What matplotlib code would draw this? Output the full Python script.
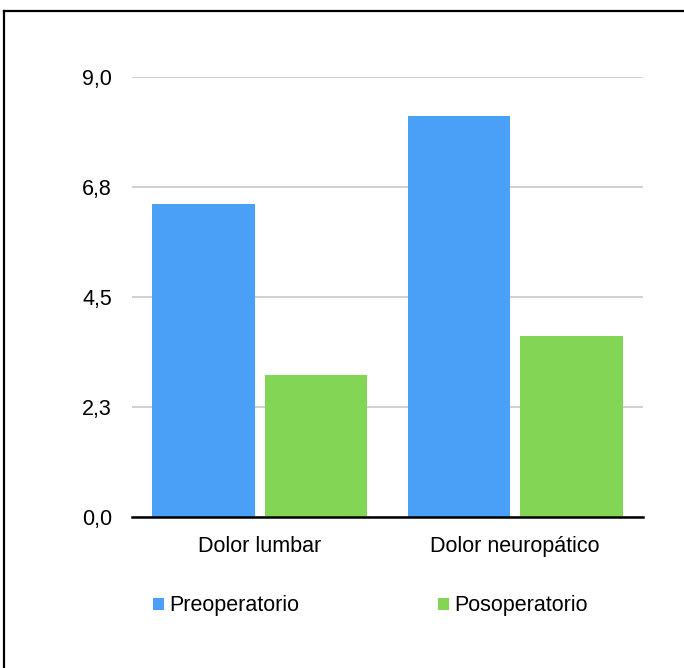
import matplotlib
matplotlib.use("Agg")
import matplotlib.pyplot as plt
from matplotlib.lines import Line2D
import numpy as np

# Data
categories = ["Dolor lumbar", "Dolor neuropático"]
series_names = ["Preoperatorio", "Posoperatorio"]
preoperatorio = [6.4, 8.2]
posoperatorio = [2.9, 3.7]
y_ticks = [0.0, 2.25, 4.5, 6.75, 9.0]
y_tick_labels = ["0,0", "2,3", "4,5", "6,8", "9,0"]

colors = ["#4a9ff7", "#83d556"]

plt.rcParams["font.family"] = ["Liberation Sans", "DejaVu Sans"]

W, H = 684, 668
fig = plt.figure(figsize=(W / 100, H / 100), dpi=100)
fig.patch.set_facecolor("white")

# Axes placement in pixels
left, right, top, bottom = 132, 643, 76.5, 517
ax = fig.add_axes([left / W, (H - bottom) / H, (right - left) / W, (bottom - top) / H])

x = np.arange(len(categories))
width = 0.4
offset = 0.22
b1 = ax.bar(x - offset, preoperatorio, width, color=colors[0], label=series_names[0], zorder=3)
b2 = ax.bar(x + offset, posoperatorio, width, color=colors[1], label=series_names[1], zorder=3)

ax.set_xlim(-0.5, 1.5)
ax.set_ylim(0, 9.0)
ax.set_yticks(y_ticks)
ax.set_yticklabels(y_tick_labels)
ax.set_xticks(x)
ax.set_xticklabels(categories)
ax.tick_params(axis="y", length=0, pad=14.4, labelsize=15.5)
ax.tick_params(axis="x", length=0, pad=14, labelsize=15.5)

ax.yaxis.grid(True, color="#c8c8c8", linewidth=1.2, zorder=0)
ax.set_axisbelow(True)
for s in ["left", "right", "top"]:
    ax.spines[s].set_visible(False)
ax.spines["bottom"].set_color("black")
ax.spines["bottom"].set_linewidth(1.8)
ax.spines["bottom"].set_zorder(4)

# Legend below the plot
leg = fig.legend(handles=[b1, b2], labels=series_names, loc="center left",
                 bbox_to_anchor=(153 / W, (H - 606) / H), ncol=2, frameon=False,
                 fontsize=15.5, handlelength=0.52, handleheight=0.52,
                 handletextpad=0.25, columnspacing=6.42, borderpad=0, borderaxespad=0)

# Frame lines along the top and left edges
fig.add_artist(Line2D([4 / W, 1.0], [(H - 11) / H, (H - 11) / H], color="black", linewidth=1.6,
                      transform=fig.transFigure))
fig.add_artist(Line2D([4 / W, 4 / W], [(H - 11) / H, 0], color="black", linewidth=1.6,
                      transform=fig.transFigure))

fig.savefig("out.png", dpi=100)
